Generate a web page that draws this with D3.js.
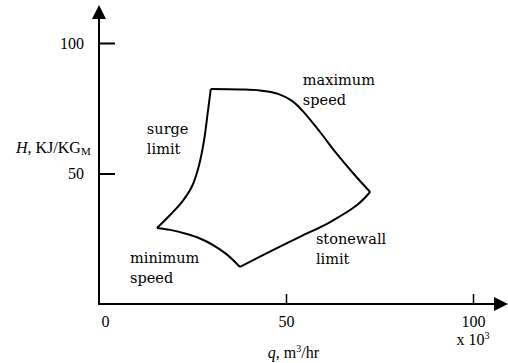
<!DOCTYPE html>
<html>
<head>
<meta charset="utf-8">
<script src="https://cdn.jsdelivr.net/npm/d3@7"></script>
<style>
  html, body { margin: 0; padding: 0; background: #fff; }
  svg { display: block; }
  .tick text { font-family: "Liberation Serif", serif; font-size: 16px; fill: #000; }
  .note { font-family: "DejaVu Serif", serif; font-size: 14.5px; fill: #000; }
  .title { font-family: "Liberation Serif", serif; font-size: 16px; fill: #000; }
</style>
</head>
<body>
<div id="chart"></div>
<script>
"use strict";

// Operating envelope of the compressor (q in 10^3 m3/hr, H in KJ/KG)
// each segment listed with q increasing
const surgeLimit = [
    [15.5, 29.1], [19.0, 34.1], [22.2, 39.1], [24.9, 45.2],
    [26.7, 52.9], [28.1, 62.8], [29.1, 73.6], [29.9, 82.4]
];
const maximumSpeed = [
    [29.9, 82.4], [37.7, 82.2], [43.0, 81.8], [47.9, 80.5], [51.6, 77.8],
    [54.5, 73.9], [59.1, 65.9], [63.6, 57.5], [67.9, 50.2], [72.5, 42.9]
];
const stonewallLimit = [
    [37.7, 14.2], [44.9, 19.5], [53.7, 25.7], [61.8, 31.4],
    [69.0, 37.9], [72.5, 42.9]
];
const minimumSpeed = [
    [15.5, 29.1], [19.0, 28.4], [23.0, 27.0], [27.0, 25.1],
    [30.5, 22.6], [34.0, 19.2], [37.7, 14.2]
];

const xTicks = [0, 50, 100];
const yTicks = [50, 100];

// labels with their anchor in data units
const notes = [
    { lines: ["surge", "limit"], x: 12.8, y: 65.1 },
    { lines: ["maximum", "speed"], x: 54.5, y: 83.9 },
    { lines: ["minimum", "speed"], x: 8.3, y: 15.7 },
    { lines: ["stonewall", "limit"], x: 58.0, y: 23.0 }
];

const svgWidth = 508;
const svgHeight = 363;
const margin = { top: 43, right: 35, bottom: 59, left: 99 };
const width = svgWidth - margin.left - margin.right;
const height = svgHeight - margin.top - margin.bottom;

const svg = d3.select("#chart")
    .append("svg")
    .attr("width", svgWidth)
    .attr("height", svgHeight);

const g = svg.append("g")
    .attr("transform", "translate(" + margin.left + "," + margin.top + ")");

const x = d3.scaleLinear().domain([0, 100]).range([0, width]);
const y = d3.scaleLinear().domain([0, 100]).range([height, 0]);

// axes with inward ticks
const yAxis = g.append("g")
    .call(d3.axisLeft(y).tickValues(yTicks).tickSizeInner(-16).tickSizeOuter(0).tickPadding(15));
yAxis.select(".domain").remove();
yAxis.selectAll(".tick line").attr("stroke", "#000").attr("stroke-width", 2);

const xAxis = g.append("g")
    .attr("transform", "translate(0," + height + ")")
    .call(d3.axisBottom(x).tickValues(xTicks).tickSizeInner(-10).tickSizeOuter(0).tickPadding(12));
xAxis.select(".domain").remove();
xAxis.selectAll(".tick line").attr("stroke", "#000").attr("stroke-width", 1.5)
    .attr("opacity", d => d === 0 ? 0 : 1);
xAxis.selectAll(".tick text").attr("dx", d => d === 0 ? 6 : 0);

// axis lines with arrow heads
g.append("line")
    .attr("x1", 0).attr("y1", height + 1).attr("x2", 0).attr("y2", -30)
    .attr("stroke", "#000").attr("stroke-width", 2);
g.append("path")
    .attr("d", "M0," + (-38) + "L-7," + (-24) + "L7," + (-24) + "Z")
    .attr("fill", "#000");
g.append("line")
    .attr("x1", -1).attr("y1", height).attr("x2", width + 25).attr("y2", height)
    .attr("stroke", "#000").attr("stroke-width", 2);
g.append("path")
    .attr("d", "M" + (width + 35) + "," + height + "L" + (width + 21) + "," + (height - 7) +
        "L" + (width + 21) + "," + (height + 7) + "Z")
    .attr("fill", "#000");

// axis titles
const yTitle = g.append("text")
    .attr("class", "title")
    .attr("x", -83)
    .attr("y", y(57.7))
    .attr("text-anchor", "start");
yTitle.append("tspan").attr("font-style", "italic").text("H");
yTitle.append("tspan").text(", KJ/KG");
yTitle.append("tspan").attr("font-size", "11px").attr("dy", 2).text("M");

const xTitle = g.append("text")
    .attr("class", "title")
    .attr("x", x(52.0))
    .attr("y", height + 54)
    .attr("text-anchor", "middle");
xTitle.append("tspan").attr("font-style", "italic").text("q");
xTitle.append("tspan").text(", m");
xTitle.append("tspan").attr("font-size", "10px").attr("dy", -6).text("3");
xTitle.append("tspan").attr("dy", 6).text("/hr");

const mult = g.append("text")
    .attr("class", "title")
    .attr("x", x(100))
    .attr("y", height + 41)
    .attr("text-anchor", "middle");
mult.append("tspan").text("x 10");
mult.append("tspan").attr("font-size", "10px").attr("dy", -6).text("3");

// envelope curves
const line = d3.line()
    .x(d => x(d[0]))
    .y(d => y(d[1]))
    .curve(d3.curveCatmullRom.alpha(0.5));

[surgeLimit, maximumSpeed, stonewallLimit, minimumSpeed].forEach(seg => {
    g.append("path")
        .datum(seg)
        .attr("d", line)
        .attr("fill", "none")
        .attr("stroke", "#000")
        .attr("stroke-width", 2)
        .attr("stroke-linejoin", "round");
});

// annotations
notes.forEach(n => {
    const t = g.append("text")
        .attr("class", "note")
        .attr("x", x(n.x))
        .attr("y", y(n.y));
    n.lines.forEach((s, i) => {
        t.append("tspan")
            .attr("x", x(n.x))
            .attr("dy", i === 0 ? 0 : "1.35em")
            .text(s);
    });
});
</script>
</body>
</html>
